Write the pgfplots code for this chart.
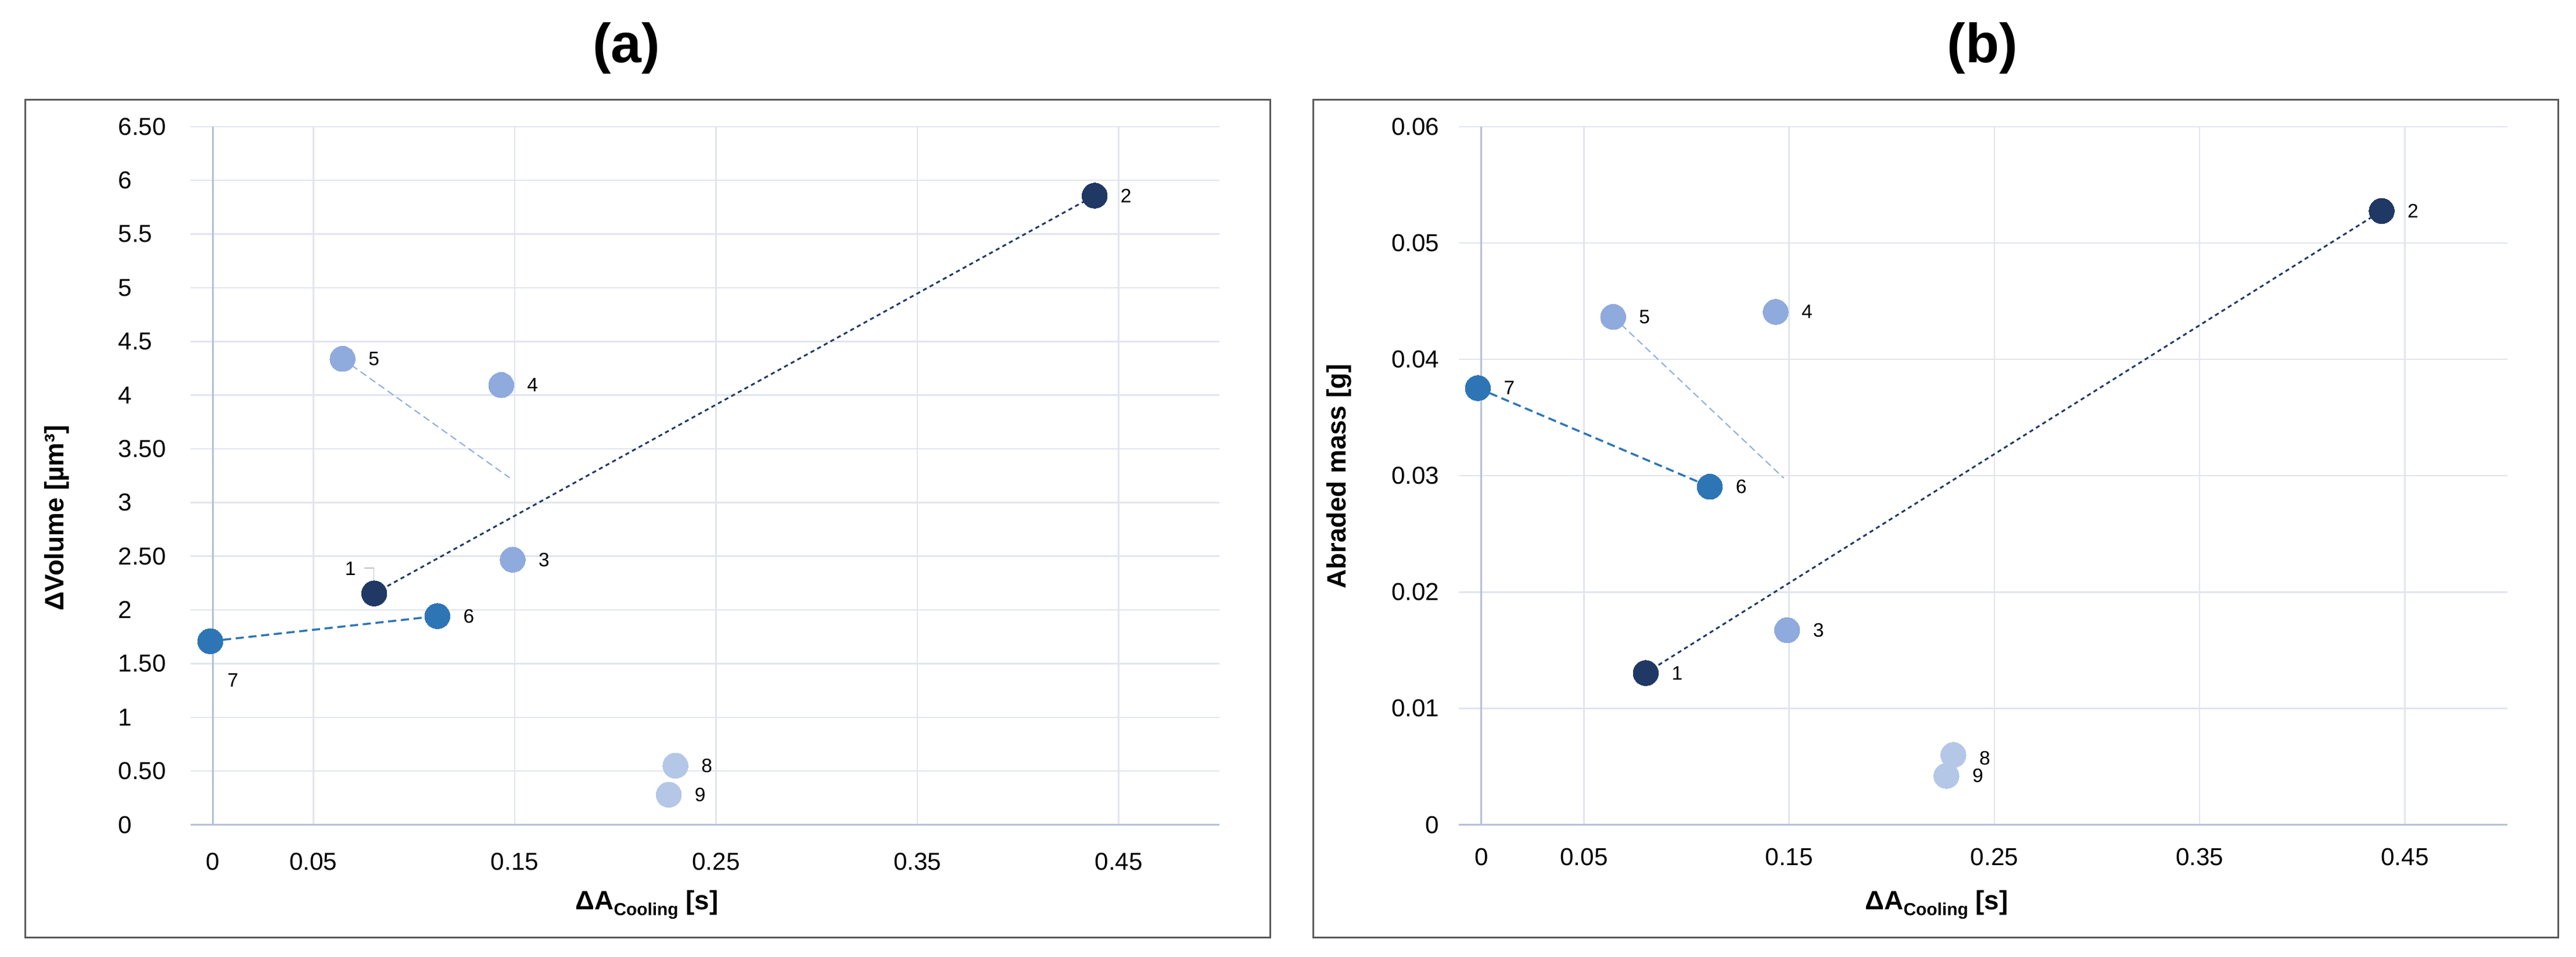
\documentclass[border=0pt]{standalone}
\usepackage{pgfplots}
\pgfplotsset{compat=1.18}
\usepackage{fontspec}
\setmainfont{Liberation Sans}

\definecolor{navy}{HTML}{203864}
\definecolor{midblue}{HTML}{2E75B6}
\definecolor{lightblue}{HTML}{8FAADC}
\definecolor{paleblue}{HTML}{B4C7E7}
\definecolor{gridc}{HTML}{E1E5EE}
\definecolor{axisc}{HTML}{B3C0D8}
\definecolor{framec}{HTML}{5A5A5A}

\pgfplotsset{
  panel/.style={
    scale only axis,
    height=12.006cm,
    xmin=-0.011, xmax=0.5,
    axis line style={draw=none},
    major tick length=0pt,
    xmajorgrids=true, ymajorgrids=true,
    grid style={gridc, line width=0.025cm},
    ticklabel style={font=\fontsize{12}{14}\selectfont, inner sep=0pt},
    scaled ticks=false,
    xtick={0,0.05,0.15,0.25,0.35,0.45},
    xticklabels={0,0.05,0.15,0.25,0.35,0.45},
    xticklabel style={anchor=center},
    clip=false,
  },
  dot/.style={only marks, mark=*, mark size=0.2175cm,
    mark options={draw=#1, fill=#1, line width=0pt}},
}
\tikzset{
  lbl/.style={font=\fontsize{9.5}{11}\selectfont, inner sep=0pt, anchor=center, xshift=0.54cm},
  navyline/.style={navy, line width=0.03cm, dash pattern=on 0.07cm off 0.06cm},
  midline/.style={midblue, line width=0.035cm, dash pattern=on 0.14cm off 0.08cm},
  lightline/.style={lightblue, line width=0.02cm, dash pattern=on 0.12cm off 0.07cm},
}

\begin{document}
\begin{tikzpicture}
\useasboundingbox (0,0) rectangle (44.34,16.46);

% frames and panel titles
\draw[framec, line width=0.03cm] (0.435,0.33) rectangle (21.867,14.743);
\draw[framec, line width=0.03cm] (22.60,0.33) rectangle (44.03,14.743);
\node[font=\fontsize{27}{30}\selectfont\bfseries] at (10.78,15.635) {(a)};
\node[font=\fontsize{27}{30}\selectfont\bfseries] at (34.12,15.635) {(b)};

% axis titles
\node[anchor=base west, inner sep=0pt, font=\fontsize{13}{15}\selectfont\bfseries]
  at (9.90,0.81) {ΔA\raisebox{-2.8pt}{\fontsize{8.5}{10}\selectfont Cooling} [s]};
\node[anchor=base west, inner sep=0pt, font=\fontsize{13}{15}\selectfont\bfseries]
  at (32.10,0.81) {ΔA\raisebox{-2.8pt}{\fontsize{8.5}{10}\selectfont Cooling} [s]};
\node[rotate=90, font=\fontsize{13}{15}\selectfont\bfseries] at (0.98,7.55) {ΔVolume [µm³]};
\node[rotate=90, font=\fontsize{13}{15}\selectfont\bfseries] at (23.05,8.265) {Abraded mass [g]};

% (a) volume
\begin{axis}[panel,
  at={(3.28cm,2.275cm)}, anchor=south west,
  width=17.71cm,
  ymin=0, ymax=6.5,
  ytick={0,0.5,1,1.5,2,2.5,3,3.5,4,4.5,5,5.5,6,6.5},
  yticklabels={0,0.50,1,1.50,2,2.50,3,3.50,4,4.5,5,5.5,6,6.50},
  yticklabel style={anchor=west, xshift=-1.25cm},
  xticklabel style={yshift=-0.635cm},
]
\draw[axisc, line width=0.03cm] (axis cs:-0.011,0) -- (axis cs:0.5,0);
\draw[axisc, line width=0.03cm] (axis cs:0,0) -- (axis cs:0,6.5);
\draw[black!25, line width=0.015cm] (axis cs:0.0752,2.39) -- (axis cs:0.0801,2.39) -- (axis cs:0.0801,2.16);

\addplot[navyline] coordinates {(0.0802,2.154) (0.438,5.858)};
\addplot[midline] coordinates {(-0.0012,1.709) (0.1116,1.943)};
\addplot[lightline] coordinates {(0.0645,4.338) (0.1475,3.23)};

\addplot[dot=navy] coordinates {(0.0802,2.154) (0.438,5.858)};
\addplot[dot=lightblue] coordinates {(0.149,2.468) (0.1433,4.094) (0.0645,4.338)};
\addplot[dot=midblue] coordinates {(0.1116,1.943) (-0.0012,1.709)};
\addplot[dot=paleblue] coordinates {(0.2298,0.55) (0.2265,0.28)};

\node[lbl, xshift=-0.95cm, yshift=0.43cm] at (axis cs:0.0802,2.154) {1};
\node[lbl] at (axis cs:0.438,5.858) {2};
\node[lbl] at (axis cs:0.149,2.468) {3};
\node[lbl] at (axis cs:0.1433,4.094) {4};
\node[lbl] at (axis cs:0.0645,4.338) {5};
\node[lbl] at (axis cs:0.1116,1.943) {6};
\node[lbl, xshift=-0.15cm, yshift=-0.67cm] at (axis cs:-0.0012,1.709) {7};
\node[lbl] at (axis cs:0.2298,0.55) {8};
\node[lbl] at (axis cs:0.2265,0.28) {9};
\end{axis}

% (b) abraded mass
\begin{axis}[panel,
  at={(25.11cm,2.275cm)}, anchor=south west,
  width=18.05cm,
  ymin=0, ymax=0.06,
  ytick={0,0.01,0.02,0.03,0.04,0.05,0.06},
  yticklabels={0,0.01,0.02,0.03,0.04,0.05,0.06},
  yticklabel style={anchor=east, xshift=-0.33cm},
  xticklabel style={yshift=-0.555cm},
]
\draw[axisc, line width=0.03cm] (axis cs:-0.011,0) -- (axis cs:0.5,0);
\draw[axisc, line width=0.03cm] (axis cs:0,0) -- (axis cs:0,0.06);

\addplot[navyline] coordinates {(0.0801,0.01304) (0.4387,0.05276)};
\addplot[midline] coordinates {(-0.0017,0.03753) (0.1113,0.02905)};
\addplot[lightline] coordinates {(0.0642,0.04365) (0.1473,0.0298)};

\addplot[dot=navy] coordinates {(0.0801,0.01304) (0.4387,0.05276)};
\addplot[dot=lightblue] coordinates {(0.149,0.01672) (0.1434,0.04408) (0.0642,0.04365)};
\addplot[dot=midblue] coordinates {(0.1113,0.02905) (-0.0017,0.03753)};
\addplot[dot=paleblue] coordinates {(0.230,0.0060) (0.2266,0.0042)};

\node[lbl] at (axis cs:0.0801,0.01304) {1};
\node[lbl] at (axis cs:0.4387,0.05276) {2};
\node[lbl] at (axis cs:0.149,0.01672) {3};
\node[lbl] at (axis cs:0.1434,0.04408) {4};
\node[lbl] at (axis cs:0.0642,0.04365) {5};
\node[lbl] at (axis cs:0.1113,0.02905) {6};
\node[lbl] at (axis cs:-0.0017,0.03753) {7};
\node[lbl, yshift=-0.06cm] at (axis cs:0.230,0.0060) {8};
\node[lbl] at (axis cs:0.2266,0.0042) {9};
\end{axis}
\end{tikzpicture}
\end{document}
